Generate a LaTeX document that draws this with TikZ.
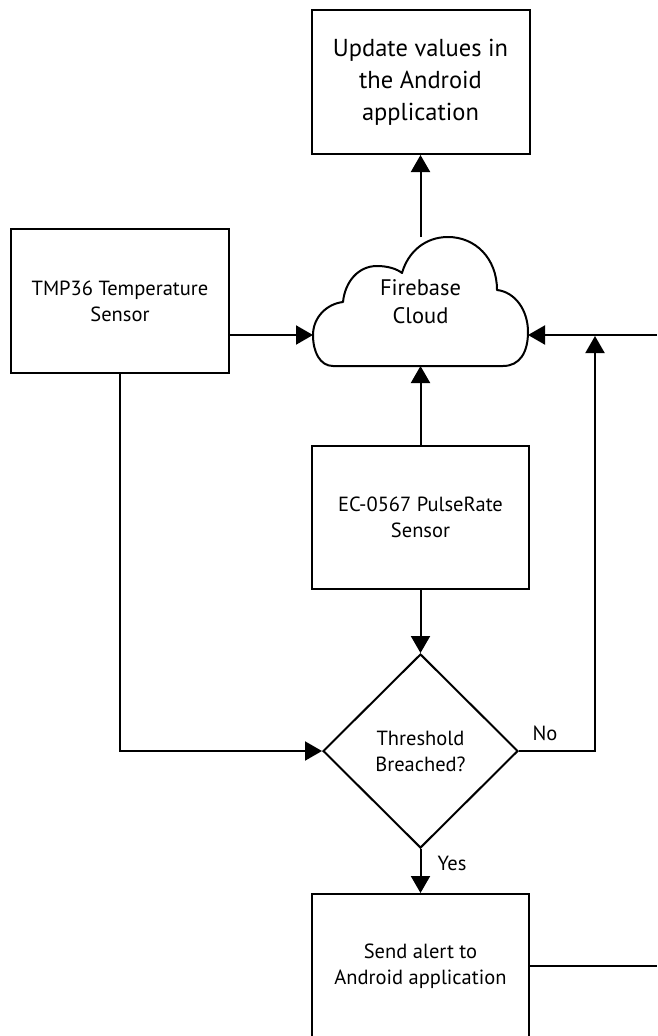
\documentclass[tikz,border=0pt]{standalone}
\usepackage{fontspec}
\setmainfont{PT Sans}
\usetikzlibrary{shapes.geometric,arrows.meta}
\begin{document}
\begin{tikzpicture}[x=1pt,y=-1pt,
  line width=2pt,
  box/.style={draw,line width=2pt,rectangle,minimum width=218pt,minimum height=144pt,inner sep=0pt,align=center,font=\fontsize{20.5}{26}\selectfont},
  dec/.style={draw,line width=2pt,diamond,minimum width=195pt,minimum height=194pt,inner sep=0pt,align=center,font=\fontsize{20.5}{26}\selectfont},
  arr/.style={-{Triangle[length=17pt,width=19pt]}},
  lbl/.style={font=\fontsize{20.5}{24}\selectfont,inner sep=0pt}]
\useasboundingbox (0,0) rectangle (657,1036);
\begin{scope}
\clip (0,0) rectangle (657,1036);
% boxes
\node[box,font=\fontsize{24.5}{32}\selectfont] (top) at (420.5,82) {Update values in\\the Android\\application};
\node[box] (tmp) at (120,301) {TMP36 Temperature\\Sensor};
\node[box,minimum width=217pt,minimum height=143pt] (pulse) at (420.5,517.5) {EC-0567 PulseRate\\Sensor};
\node[dec] (dia) at (420.5,751) {Threshold\\Breached?};
\node[box,minimum width=217pt] (alert) at (420.5,966) {Send alert to\\Android application};
% cloud
\node[minimum width=215pt,minimum height=129pt,inner sep=0pt,align=center,font=\fontsize{22.5}{28}\selectfont] (cloud) at (420.5,301.5) {Firebase\\Cloud};
\draw[line width=2pt,line join=round] (333,366) .. controls (320,366) and (313,352) .. (313,335)
  .. controls (313,318) and (326,304) .. (343,302)
  .. controls (345,282) and (358,266) .. (377,266)
  .. controls (388,266) and (397,269) .. (402,273)
  .. controls (408,252) and (425,237) .. (448,237)
  .. controls (475,237) and (497,258) .. (497,290)
  .. controls (515,292) and (528,310) .. (528,332)
  .. controls (528,352) and (520,366) .. (503,366)
  -- cycle;
\coordinate (cloudT) at (420.5,237);
\coordinate (cloudL) at (313,335);
\coordinate (cloudR) at (528,335);
\coordinate (cloudB) at (420.5,366);
\coordinate (noTop) at (595,336);
\coordinate (rightIn) at (657,335);
\coordinate (alertOut) at (657,966);
% connectors
\draw[arr] (cloudT) -- (top.south);
\draw[arr] (tmp.east |- cloudL) -- (cloudL);
\draw[arr] (tmp.south) |- (dia.west);
\draw[arr] (pulse.north) -- (cloudB);
\draw[arr] (pulse.south) -- (dia.north);
\draw[arr] (dia.south) -- (alert.north);
\draw[arr] (dia.east) -| (noTop);
\draw[arr] (rightIn) -- (cloudR);
\draw (alert.east) -- (alertOut);
% labels
\node[lbl] (no) at (545,733) {No};
\node[lbl] (yes) at (452,863) {Yes};
\end{scope}
\end{tikzpicture}
\end{document}
